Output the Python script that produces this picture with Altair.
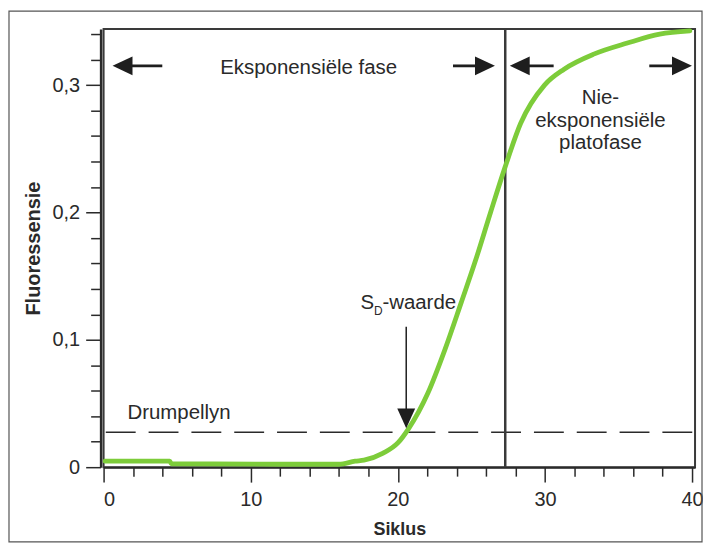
import altair as alt
import pandas as pd

# ---- data ----
cycle = [0.1, 4.5, 4.6, 11.9, 16.0, 17.1, 17.7, 19.0, 20.0, 20.7, 22.06, 23.2, 24.3,
         25.3, 26.3, 27.3, 28.35, 29.97, 31.3, 33.36, 35.6, 37.8, 39.85]
fluor = [0.0047, 0.0047, 0.0027, 0.0023, 0.0023, 0.0047, 0.0055, 0.011, 0.019, 0.0297,
         0.0586, 0.0923, 0.129, 0.163, 0.200, 0.236, 0.270, 0.300, 0.3125, 0.3245,
         0.333, 0.340, 0.3425]

x_ticks = list(range(0, 41, 2))
y_ticks = [round(i * 0.02, 2) for i in range(0, 18)]

threshold = 0.0274          # Drumpellyn
sd_cycle = 20.57            # S_D-waarde
phase_border = 27.3         # end of exponential phase

XMAX, YMAX = 40.2, 0.344
W, H = 594, 440

FONT = "Liberation Sans"
DARK = "#2a2a2a"
GREEN = "#7dcc3a"
ANN = 20.5

xscale = alt.Scale(domain=[0, XMAX], nice=False, zero=False)
yscale = alt.Scale(domain=[0, YMAX], nice=False, zero=False)

x_axis = alt.Axis(
    values=x_ticks, grid=False, domainColor=DARK, domainWidth=2,
    tickColor=DARK, tickWidth=1.5,
    tickSize={"condition": {"test": "datum.value % 10 === 0", "value": 15}, "value": 9},
    labelExpr="datum.value % 10 === 0 ? datum.label : ''",
    labelFont=FONT, labelFontSize=20, labelColor=DARK, labelPadding=7,
    title="Siklus", titleFont=FONT, titleFontSize=18, titleFontWeight="bold",
    titleColor=DARK, titlePadding=12,
)
y_axis = alt.Axis(
    values=y_ticks, grid=False, offset=3, domainColor=DARK, domainWidth=2.5,
    tickColor=DARK, tickWidth=1.5,
    tickSize={"condition": {"test": "abs(datum.value*10 - round(datum.value*10)) < 0.001", "value": 15}, "value": 10},
    labelExpr="abs(datum.value*10 - round(datum.value*10)) < 0.001 ? (datum.value == 0 ? '0' : replace(format(datum.value, '.1f'), '.', ',')) : ''",
    labelFont=FONT, labelFontSize=20, labelColor=DARK, labelPadding=6,
    title="Fluoressensie", titleFont=FONT, titleFontSize=20, titleFontWeight="bold",
    titleColor=DARK, titlePadding=9,
)


def X(field):
    return alt.X(field, type="quantitative", scale=xscale, axis=x_axis, title="Siklus")


def Y(field):
    return alt.Y(field, type="quantitative", scale=yscale, axis=y_axis, title="Fluoressensie")


curve_df = pd.DataFrame({"c": cycle, "f": fluor})
curve = alt.Chart(curve_df).mark_line(
    color=GREEN, strokeWidth=4.8, interpolate="monotone", strokeCap="round"
).encode(x=X("c"), y=Y("f"))

thr = alt.Chart(pd.DataFrame({"x0": [0.15], "x1": [XMAX], "y": [threshold]})).mark_rule(
    color=DARK, strokeWidth=1.5, strokeDash=[30, 13]
).encode(x=X("x0"), x2="x1", y=Y("y"))

border = alt.Chart(pd.DataFrame({"x": [phase_border], "y0": [0], "y1": [YMAX]})).mark_rule(
    color="#3a3a3a", strokeWidth=2.5
).encode(x=X("x"), y=Y("y0"), y2="y1")

# horizontal phase arrows
arrow_y = 0.3151
seg_df = pd.DataFrame({"a": [1.2, 23.75, 28.2, 37.09], "b": [3.99, 25.9, 30.59, 39.3],
                       "y": [arrow_y] * 4})
segs = alt.Chart(seg_df).mark_rule(color="#1e1e1e", strokeWidth=2.8).encode(
    x=X("a"), x2="b", y=Y("y"))

left_heads = alt.Chart(pd.DataFrame({"x": [0.61, 27.61], "y": [arrow_y] * 2})).mark_point(
    shape="M0,0 L2,-0.95 L2,0.95 Z", filled=True, size=400, color="#1e1e1e", opacity=1,
    strokeWidth=0).encode(x=X("x"), y=Y("y"))
right_heads = alt.Chart(pd.DataFrame({"x": [26.6, 39.99], "y": [arrow_y] * 2})).mark_point(
    shape="M0,0 L-2,-0.95 L-2,0.95 Z", filled=True, size=400, color="#1e1e1e", opacity=1,
    strokeWidth=0).encode(x=X("x"), y=Y("y"))

# S_D arrow
sd_line = alt.Chart(pd.DataFrame({"x": [sd_cycle], "y0": [0.1102], "y1": [0.045]})).mark_rule(
    color="#1e1e1e", strokeWidth=1.5).encode(x=X("x"), y=Y("y0"), y2="y1")
sd_head = alt.Chart(pd.DataFrame({"x": [sd_cycle], "y": [0.0305]})).mark_point(
    shape="M0,0 L-0.9,-2 L0.9,-2 Z", filled=True, size=400, color="#1e1e1e", opacity=1,
    strokeWidth=0).encode(x=X("x"), y=Y("y"))


# texts
def text_layer(df, align="center", size=ANN):
    return alt.Chart(df).mark_text(
        font=FONT, fontSize=size, color=DARK, align=align, baseline="middle"
    ).encode(x=X("x"), y=Y("y"), text="t:N")


t_center = text_layer(pd.DataFrame({
    "x": [13.94, 33.77, 33.77, 33.77],
    "y": [0.3136, 0.2901, 0.2721, 0.2549],
    "t": ["Eksponensiële fase", "Nie-", "eksponensiële", "platofase"],
}))
t_left = text_layer(pd.DataFrame({
    "x": [1.62, 17.46, 18.95],
    "y": [0.0425, 0.129, 0.129],
    "t": ["Drumpellyn", "S", "-waarde"],
}), align="left")
t_sub = text_layer(pd.DataFrame({"x": [18.38], "y": [0.1225], "t": ["D"]}), align="left", size=12)

# outer frame of the figure
frame = alt.Chart(pd.DataFrame({"d": [0]})).mark_rect(
    filled=False, stroke="#555555", strokeWidth=1.2
).encode(x=alt.value(-95), x2=alt.value(601), y=alt.value(-18), y2=alt.value(515))

chart = alt.layer(
    frame, thr, border, curve, segs, left_heads, right_heads, sd_line, sd_head,
    t_center, t_left, t_sub
).properties(
    width=W, height=H,
    padding={"left": 96, "top": 20, "right": 8, "bottom": 76},
    autosize=alt.AutoSizeParams(type="none"),
).configure_view(stroke="#3a3a3a", strokeWidth=2)

chart.save("out.html", embed_options={"renderer": "svg", "actions": False})
